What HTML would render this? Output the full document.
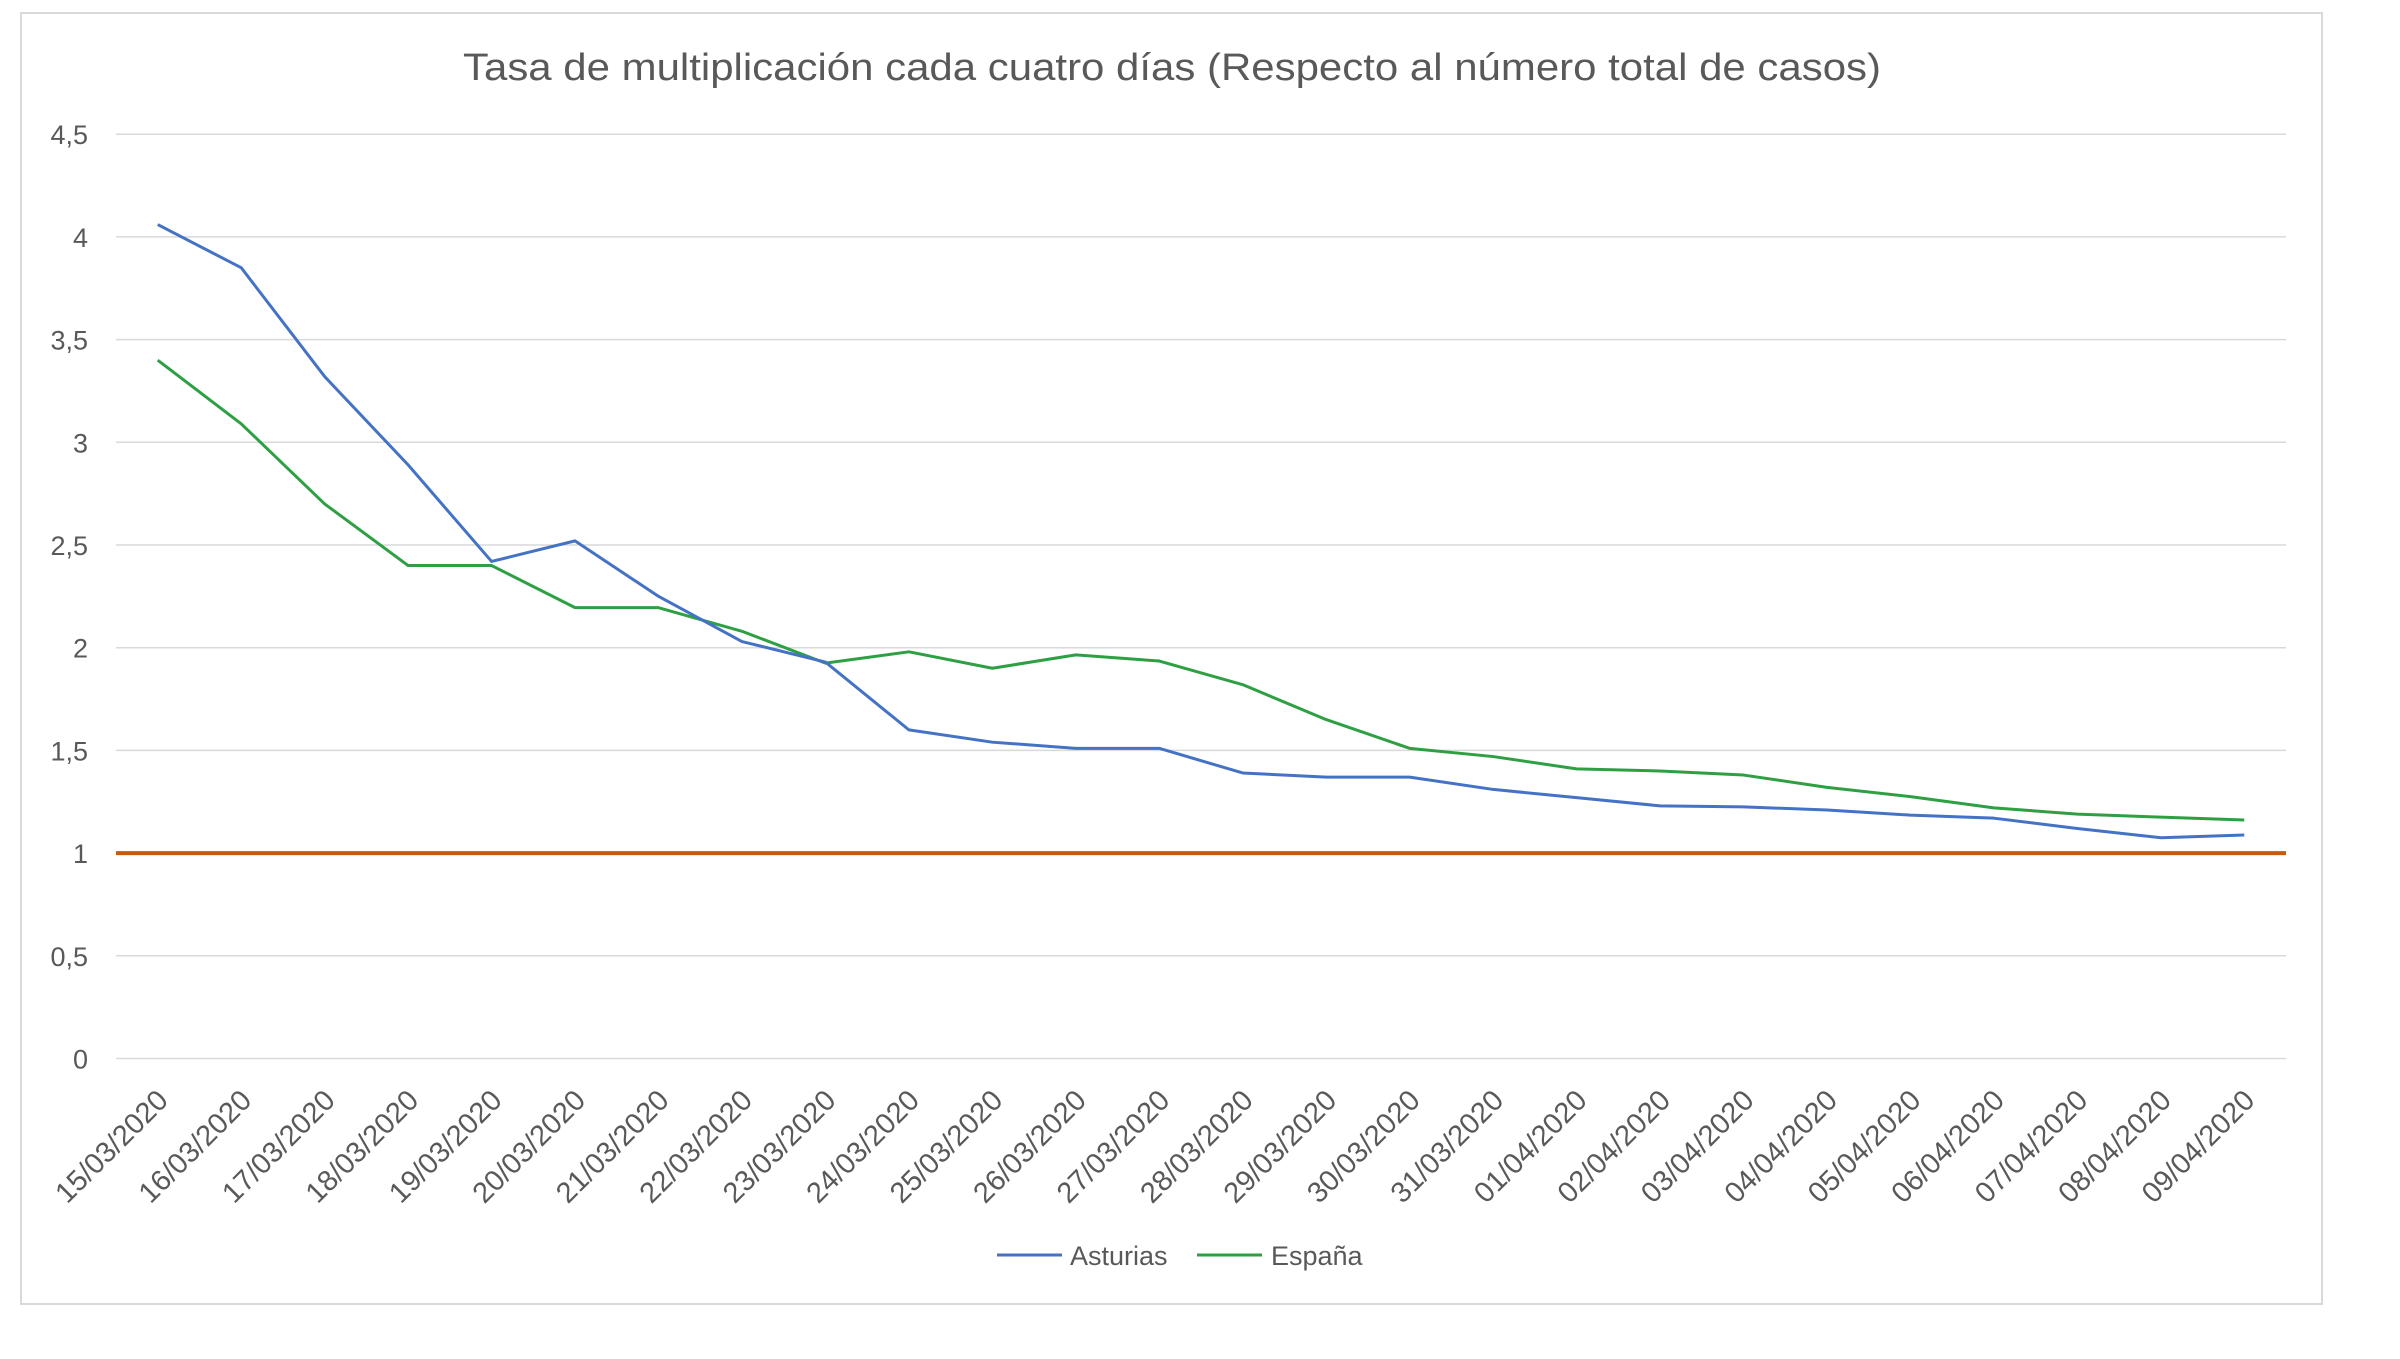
<!DOCTYPE html>
<html><head><meta charset="utf-8">
<style>html,body{margin:0;padding:0;background:#fff;}svg{display:block;}</style>
</head><body>
<svg id="c" width="2400" height="1359" xmlns="http://www.w3.org/2000/svg" font-family="'Liberation Sans', sans-serif">
<rect x="21" y="13" width="2301" height="1291" fill="#fff" stroke="#d9d9d9" stroke-width="2"/>
<text x="1172" y="80" text-anchor="middle" font-size="38" fill="#595959" textLength="1418" lengthAdjust="spacingAndGlyphs">Tasa de multiplicación cada cuatro días (Respecto al número total de casos)</text>
<g id="grid"></g>
<g id="lbl"></g>
<g id="series"></g>
<line x1="997" y1="1255" x2="1062" y2="1255" stroke="#4472c4" stroke-width="3"/>
<text x="1070" y="1265" font-size="27" fill="#595959">Asturias</text>
<line x1="1197" y1="1255" x2="1262" y2="1255" stroke="#2ea043" stroke-width="3"/>
<text x="1271" y="1265" font-size="27" fill="#595959">España</text>
</svg>
<script>
var NS="http://www.w3.org/2000/svg";
function el(t,a,p,txt){var e=document.createElementNS(NS,t);for(var k in a)e.setAttribute(k,a[k]);if(txt!==undefined)e.textContent=txt;p.appendChild(e);return e;}
var y0=1058.5,sc=205.4,L=116,R=2286,n=26,step=(R-L)/n;
function Y(v){return y0-sc*v;}
function X(i){return L+step*(i+0.5);}
var g=document.getElementById('grid');
["0","0,5","1","1,5","2","2,5","3","3,5","4","4,5"].forEach(function(t,i){
 var v=i*0.5;
 if(v!==1) el('line',{x1:L,y1:Y(v),x2:R,y2:Y(v),stroke:'#d9d9d9','stroke-width':1.5},g);
 el('text',{x:88,y:Y(v)+10,'text-anchor':'end','font-size':27,fill:'#595959'},g,t);
});
var lb=document.getElementById('lbl');
var dates=[];
for(var d=15;d<=31;d++)dates.push((d<10?'0':'')+d+'/03/2020');
for(var d=1;d<=9;d++)dates.push('0'+d+'/04/2020');
dates.forEach(function(t,i){
 var x=X(i)+12,y=1102;
 el('text',{x:x,y:y,'text-anchor':'end','font-size':29,fill:'#595959',transform:'rotate(-45 '+x+' '+y+')'},lb,t);
});
var blue=[4.06,3.85,3.32,2.89,2.42,2.52,2.25,2.03,1.93,1.60,1.54,1.51,1.51,1.39,1.37,1.37,1.31,1.27,1.23,1.225,1.21,1.185,1.17,1.12,1.075,1.088];
var green=[3.40,3.09,2.70,2.40,2.40,2.195,2.195,2.08,1.925,1.98,1.90,1.965,1.935,1.82,1.65,1.51,1.47,1.41,1.40,1.38,1.32,1.275,1.22,1.19,1.175,1.161];
var s=document.getElementById('series');
el('line',{x1:L,y1:Y(1),x2:R,y2:Y(1),stroke:'#c55a11','stroke-width':4},s);
function pl(d,c){el('polyline',{points:d.map(function(v,i){return X(i)+','+Y(v);}).join(' '),fill:'none',stroke:c,'stroke-width':3,'stroke-linejoin':'round'},s);}
pl(green,'#2ea043');pl(blue,'#4472c4');
</script>
</body></html>
